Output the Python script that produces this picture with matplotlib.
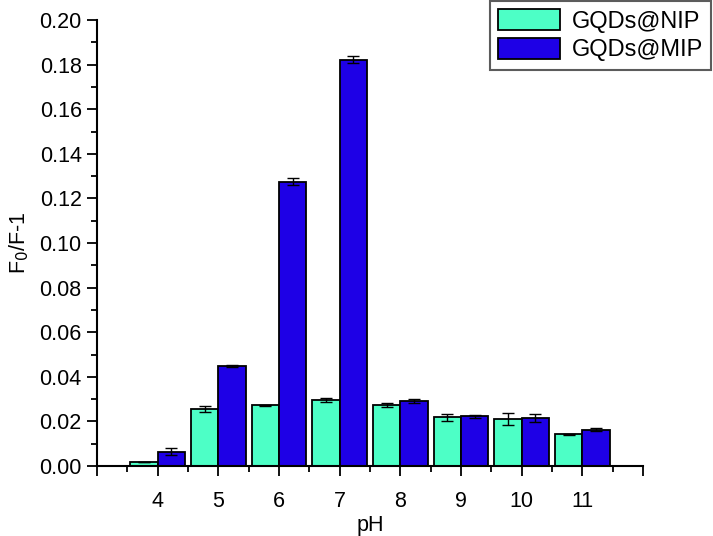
import matplotlib
matplotlib.use("Agg")
import matplotlib.pyplot as plt
import numpy as np
from matplotlib.ticker import MultipleLocator

plt.rcParams['font.family'] = ['Liberation Sans', 'DejaVu Sans']

ph = [4, 5, 6, 7, 8, 9, 10, 11]
nip = [0.0018, 0.0254, 0.0272, 0.0295, 0.0272, 0.0218, 0.0211, 0.0142]
nip_err = [0.0, 0.0013, 0.0003, 0.0009, 0.0009, 0.0014, 0.0028, 0.0002]
mip = [0.0064, 0.0448, 0.1275, 0.1822, 0.0292, 0.0223, 0.0215, 0.0163]
mip_err = [0.0015, 0.0005, 0.0017, 0.0015, 0.0010, 0.0006, 0.0016, 0.0006]
labels = ['GQDs@NIP', 'GQDs@MIP']

fig = plt.figure(figsize=(7.13, 5.36), dpi=100)
ax = fig.add_axes([97/713, 70/536, (643-97)/713, (466-20)/536])

x = np.array(ph, dtype=float)
w = 0.45
ekw = dict(ecolor='black', elinewidth=1.0, capsize=4, capthick=1.0)
ax.bar(x - w/2, nip, width=w, color='#4DFFC6', edgecolor='black', linewidth=1.3,
       yerr=nip_err, error_kw=ekw, label=labels[0])
ax.bar(x + w/2, mip, width=w, color='#1E00E6', edgecolor='black', linewidth=1.3,
       yerr=mip_err, error_kw=ekw, label=labels[1])

ax.set_xlim(3, 12)
ax.set_ylim(0, 0.20)
ax.set_xticks(np.arange(3, 13, 1))
ax.set_xticklabels([''] + [str(p) for p in ph] + [''])
ax.xaxis.set_minor_locator(MultipleLocator(0.5))
ax.yaxis.set_major_locator(MultipleLocator(0.02))
ax.yaxis.set_minor_locator(MultipleLocator(0.01))
ax.yaxis.set_major_formatter(matplotlib.ticker.FormatStrFormatter('%.2f'))

for s in ['top', 'right']:
    ax.spines[s].set_visible(False)
for s in ['left', 'bottom']:
    ax.spines[s].set_linewidth(1.5)
ax.tick_params(axis='both', which='major', direction='out', length=7, width=1.3, labelsize=15.5, pad=4)
ax.tick_params(axis='both', which='minor', direction='out', length=4, width=1.3)
ax.tick_params(axis='x', which='major', pad=11)

ax.set_xlabel('pH', fontsize=15.5, labelpad=2)
ax.set_ylabel('F$_0$/F-1', fontsize=15.5, labelpad=6)

leg = fig.legend(loc='upper right', bbox_to_anchor=(711/713, 535/536), fontsize=17,
                 frameon=True, fancybox=False, edgecolor='#333333', handlelength=2.6,
                 handleheight=1.0, borderpad=0.35, labelspacing=0.2, handletextpad=0.5,
                 borderaxespad=0.0)
leg.get_frame().set_linewidth(1.5)

fig.savefig('out.png', dpi=100)
